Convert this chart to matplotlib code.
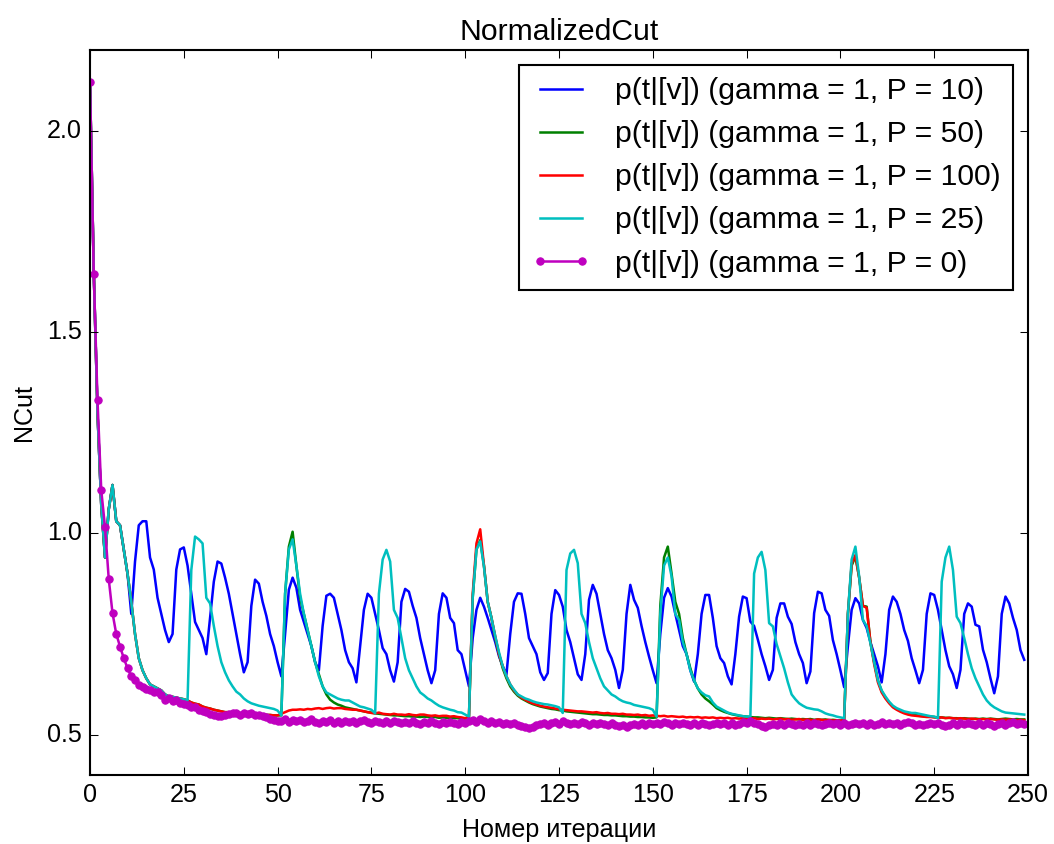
import numpy as np
import matplotlib
matplotlib.use('Agg')
from matplotlib import pyplot as plt

# NCut per iteration (iterations 0..249)
ncut_p10 = [
    2.12, 1.65, 1.30, 1.07, 0.94, 1.06, 1.12, 1.03, 1.02, 0.96,
    0.90, 0.80, 0.93, 1.02, 1.03, 1.03, 0.94, 0.91, 0.84, 0.80,
    0.76, 0.73, 0.75, 0.91, 0.96, 0.965, 0.92, 0.85, 0.78, 0.76,
    0.74, 0.70, 0.79, 0.88, 0.93, 0.925, 0.89, 0.85, 0.80, 0.75,
    0.70, 0.655, 0.68, 0.82, 0.885, 0.875, 0.83, 0.795, 0.75, 0.72,
    0.68, 0.645, 0.75, 0.86, 0.89, 0.865, 0.81, 0.78, 0.75, 0.72,
    0.68, 0.66, 0.77, 0.845, 0.85, 0.84, 0.80, 0.76, 0.71, 0.68,
    0.665, 0.63, 0.72, 0.81, 0.85, 0.84, 0.80, 0.76, 0.715, 0.70,
    0.66, 0.632, 0.68, 0.83, 0.862, 0.855, 0.82, 0.79, 0.74, 0.70,
    0.66, 0.628, 0.66, 0.80, 0.851, 0.84, 0.79, 0.777, 0.71, 0.70,
    0.66, 0.62, 0.74, 0.81, 0.84, 0.818, 0.79, 0.76, 0.73, 0.695,
    0.67, 0.65, 0.75, 0.83, 0.851, 0.85, 0.80, 0.74, 0.72, 0.70,
    0.655, 0.636, 0.653, 0.80, 0.859, 0.847, 0.818, 0.76, 0.73, 0.69,
    0.65, 0.636, 0.70, 0.835, 0.872, 0.85, 0.80, 0.75, 0.71, 0.69,
    0.661, 0.616, 0.661, 0.80, 0.872, 0.835, 0.815, 0.77, 0.73, 0.694,
    0.66, 0.628, 0.75, 0.84, 0.864, 0.843, 0.80, 0.76, 0.72, 0.70,
    0.66, 0.632, 0.70, 0.80, 0.847, 0.847, 0.79, 0.72, 0.69, 0.678,
    0.645, 0.625, 0.70, 0.793, 0.843, 0.839, 0.781, 0.77, 0.736, 0.70,
    0.67, 0.636, 0.661, 0.79, 0.826, 0.826, 0.793, 0.775, 0.73, 0.70,
    0.678, 0.628, 0.657, 0.802, 0.855, 0.851, 0.81, 0.795, 0.735, 0.70,
    0.66, 0.618, 0.72, 0.81, 0.839, 0.826, 0.785, 0.765, 0.73, 0.70,
    0.67, 0.63, 0.70, 0.81, 0.843, 0.83, 0.80, 0.76, 0.733, 0.69,
    0.66, 0.628, 0.661, 0.80, 0.851, 0.847, 0.81, 0.76, 0.71, 0.67,
    0.65, 0.616, 0.661, 0.80, 0.826, 0.818, 0.773, 0.769, 0.711, 0.68,
    0.64, 0.603, 0.645, 0.80, 0.843, 0.826, 0.79, 0.76, 0.71, 0.686,
]

ncut_p50 = [
    2.12, 1.65, 1.30, 1.07, 0.94, 1.06, 1.12, 1.03, 1.02, 0.96,
    0.90, 0.83, 0.75, 0.69, 0.66, 0.64, 0.625, 0.62, 0.615, 0.61,
    0.60, 0.595, 0.594, 0.592, 0.59, 0.588, 0.585, 0.58, 0.577, 0.575,
    0.57, 0.567, 0.565, 0.562, 0.56, 0.558, 0.556, 0.556, 0.554, 0.553,
    0.553, 0.552, 0.552, 0.551, 0.551, 0.55, 0.55, 0.549, 0.549, 0.548,
    0.548, 0.548, 0.85, 0.967, 1.004, 0.92, 0.84, 0.80, 0.76, 0.72,
    0.68, 0.65, 0.62, 0.60, 0.587, 0.58, 0.575, 0.572, 0.568, 0.566,
    0.564, 0.562, 0.56, 0.558, 0.556, 0.555, 0.553, 0.552, 0.551, 0.55,
    0.549, 0.548, 0.548, 0.547, 0.546, 0.546, 0.545, 0.545, 0.544, 0.545,
    0.544, 0.543, 0.544, 0.542, 0.543, 0.542, 0.541, 0.542, 0.541, 0.54,
    0.54, 0.543, 0.84, 0.96, 0.983, 0.92, 0.83, 0.79, 0.74, 0.70,
    0.665, 0.64, 0.62, 0.607, 0.597, 0.59, 0.585, 0.58, 0.576, 0.573,
    0.57, 0.568, 0.566, 0.564, 0.563, 0.561, 0.56, 0.558, 0.557, 0.556,
    0.555, 0.554, 0.553, 0.552, 0.551, 0.551, 0.55, 0.549, 0.549, 0.548,
    0.548, 0.547, 0.546, 0.546, 0.545, 0.545, 0.544, 0.544, 0.543, 0.543,
    0.542, 0.543, 0.82, 0.94, 0.967, 0.90, 0.83, 0.80, 0.74, 0.70,
    0.665, 0.635, 0.615, 0.60, 0.59, 0.583, 0.575, 0.566, 0.561, 0.557,
    0.554, 0.551, 0.549, 0.547, 0.546, 0.545, 0.544, 0.543, 0.543, 0.542,
    0.541, 0.542, 0.541, 0.54, 0.541, 0.54, 0.539, 0.54, 0.539, 0.538,
    0.539, 0.538, 0.539, 0.537, 0.538, 0.537, 0.538, 0.536, 0.537, 0.536,
    0.535, 0.536, 0.80, 0.92, 0.942, 0.89, 0.82, 0.818, 0.73, 0.68,
    0.635, 0.608, 0.592, 0.58, 0.57, 0.564, 0.559, 0.555, 0.552, 0.55,
    0.549, 0.547, 0.546, 0.545, 0.545, 0.544, 0.543, 0.543, 0.542, 0.542,
    0.541, 0.541, 0.54, 0.541, 0.54, 0.539, 0.54, 0.539, 0.54, 0.539,
    0.54, 0.539, 0.538, 0.539, 0.54, 0.539, 0.538, 0.539, 0.538, 0.538,
]

ncut_p100 = [
    2.12, 1.65, 1.30, 1.07, 0.94, 1.06, 1.12, 1.03, 1.02, 0.96,
    0.90, 0.83, 0.75, 0.69, 0.66, 0.64, 0.625, 0.62, 0.615, 0.61,
    0.60, 0.595, 0.594, 0.592, 0.59, 0.588, 0.585, 0.58, 0.577, 0.575,
    0.57, 0.567, 0.565, 0.562, 0.56, 0.558, 0.556, 0.556, 0.554, 0.553,
    0.553, 0.552, 0.552, 0.551, 0.551, 0.55, 0.55, 0.549, 0.549, 0.548,
    0.548, 0.552, 0.556, 0.56, 0.562, 0.562, 0.563, 0.562, 0.564, 0.563,
    0.565, 0.566, 0.564, 0.566, 0.567, 0.565, 0.566, 0.566, 0.564, 0.563,
    0.562, 0.562, 0.56, 0.558, 0.556, 0.554, 0.553, 0.555, 0.552, 0.551,
    0.55, 0.552, 0.55, 0.55, 0.549, 0.551, 0.549, 0.548, 0.55, 0.55,
    0.548, 0.547, 0.548, 0.546, 0.547, 0.547, 0.545, 0.546, 0.544, 0.543,
    0.541, 0.545, 0.85, 0.975, 1.01, 0.92, 0.83, 0.79, 0.745, 0.70,
    0.67, 0.645, 0.625, 0.61, 0.60, 0.592, 0.587, 0.582, 0.578, 0.575,
    0.572, 0.57, 0.568, 0.567, 0.565, 0.563, 0.562, 0.561, 0.56, 0.559,
    0.558, 0.558, 0.557, 0.556, 0.555, 0.556, 0.554, 0.553, 0.554, 0.552,
    0.552, 0.551, 0.552, 0.55, 0.55, 0.549, 0.55, 0.548, 0.549, 0.547,
    0.548, 0.547, 0.546, 0.547, 0.545, 0.546, 0.545, 0.544, 0.545, 0.543,
    0.544, 0.543, 0.544, 0.542, 0.543, 0.542, 0.543, 0.541, 0.542, 0.541,
    0.542, 0.54, 0.541, 0.54, 0.541, 0.539, 0.54, 0.541, 0.539, 0.54,
    0.539, 0.54, 0.538, 0.539, 0.54, 0.538, 0.539, 0.537, 0.538, 0.539,
    0.537, 0.538, 0.537, 0.536, 0.538, 0.537, 0.536, 0.537, 0.535, 0.536,
    0.535, 0.537, 0.80, 0.925, 0.946, 0.89, 0.82, 0.815, 0.73, 0.675,
    0.63, 0.605, 0.59, 0.578, 0.568, 0.562, 0.557, 0.553, 0.55, 0.548,
    0.547, 0.546, 0.545, 0.544, 0.544, 0.543, 0.542, 0.543, 0.541, 0.542,
    0.541, 0.54, 0.541, 0.54, 0.539, 0.54, 0.539, 0.538, 0.539, 0.538,
    0.539, 0.538, 0.537, 0.538, 0.537, 0.538, 0.537, 0.536, 0.537, 0.536,
]

ncut_p25 = [
    2.12, 1.65, 1.30, 1.07, 0.94, 1.06, 1.12, 1.03, 1.02, 0.96,
    0.90, 0.83, 0.75, 0.69, 0.66, 0.64, 0.625, 0.62, 0.615, 0.61,
    0.60, 0.595, 0.594, 0.592, 0.59, 0.588, 0.585, 0.909, 0.992, 0.985,
    0.975, 0.84, 0.826, 0.77, 0.72, 0.68, 0.655, 0.635, 0.62, 0.607,
    0.60, 0.59, 0.583, 0.578, 0.575, 0.572, 0.57, 0.568, 0.566, 0.564,
    0.56, 0.548, 0.85, 0.96, 0.985, 0.92, 0.85, 0.80, 0.76, 0.72,
    0.68, 0.645, 0.62, 0.605, 0.60, 0.595, 0.59, 0.587, 0.585, 0.585,
    0.58, 0.575, 0.57, 0.568, 0.565, 0.562, 0.553, 0.85, 0.935, 0.959,
    0.93, 0.81, 0.79, 0.74, 0.69, 0.66, 0.64, 0.62, 0.605, 0.598,
    0.59, 0.585, 0.578, 0.572, 0.568, 0.565, 0.562, 0.56, 0.556, 0.555,
    0.55, 0.545, 0.84, 0.96, 0.98, 0.917, 0.83, 0.79, 0.745, 0.705,
    0.67, 0.645, 0.625, 0.612, 0.60, 0.595, 0.59, 0.587, 0.583, 0.58,
    0.578, 0.576, 0.575, 0.573, 0.571, 0.568, 0.554, 0.909, 0.95, 0.959,
    0.926, 0.80, 0.777, 0.73, 0.69, 0.665, 0.64, 0.62, 0.61, 0.60,
    0.595, 0.588, 0.583, 0.58, 0.578, 0.574, 0.572, 0.57, 0.568, 0.566,
    0.562, 0.545, 0.80, 0.92, 0.94, 0.893, 0.80, 0.785, 0.73, 0.70,
    0.66, 0.635, 0.615, 0.605, 0.598, 0.595, 0.58, 0.57, 0.565, 0.56,
    0.555, 0.552, 0.55, 0.548, 0.546, 0.545, 0.545, 0.90, 0.94, 0.954,
    0.909, 0.777, 0.769, 0.725, 0.695, 0.665, 0.63, 0.60, 0.588, 0.578,
    0.572, 0.567, 0.565, 0.563, 0.562, 0.558, 0.553, 0.55, 0.548, 0.545,
    0.543, 0.541, 0.80, 0.935, 0.967, 0.893, 0.785, 0.77, 0.727, 0.68,
    0.635, 0.61, 0.595, 0.582, 0.572, 0.566, 0.562, 0.558, 0.556, 0.554,
    0.554, 0.552, 0.55, 0.548, 0.546, 0.545, 0.541, 0.88, 0.94, 0.967,
    0.909, 0.793, 0.777, 0.74, 0.70, 0.665, 0.64, 0.62, 0.60, 0.585,
    0.575, 0.568, 0.563, 0.558, 0.555, 0.554, 0.553, 0.552, 0.551, 0.55,
]

ncut_p0 = [
    2.12, 1.645, 1.33, 1.107, 1.016, 0.886, 0.802, 0.75, 0.719, 0.69,
    0.665, 0.645, 0.635, 0.624, 0.618, 0.614, 0.61, 0.605, 0.607, 0.598,
    0.585, 0.59, 0.583, 0.585, 0.58, 0.576, 0.574, 0.57, 0.568, 0.562,
    0.56, 0.556, 0.552, 0.55, 0.547, 0.547, 0.55, 0.552, 0.553, 0.554,
    0.55, 0.553, 0.551, 0.554, 0.55, 0.548, 0.546, 0.544, 0.54, 0.537,
    0.535, 0.534, 0.538, 0.532, 0.536, 0.533, 0.537, 0.531, 0.535, 0.538,
    0.532, 0.529, 0.534, 0.531, 0.536, 0.530, 0.533, 0.528, 0.535, 0.531,
    0.534, 0.530, 0.533, 0.536, 0.531, 0.528, 0.534, 0.531, 0.529, 0.533,
    0.530, 0.535, 0.531, 0.528, 0.532, 0.529, 0.534, 0.530, 0.527, 0.532,
    0.529, 0.533, 0.530, 0.526, 0.531, 0.528, 0.532, 0.529, 0.526, 0.531,
    0.528, 0.533, 0.536, 0.531, 0.538, 0.534, 0.530, 0.533, 0.528, 0.531,
    0.527, 0.530, 0.526, 0.529, 0.524, 0.522, 0.518, 0.516, 0.520, 0.523,
    0.526, 0.529, 0.525, 0.528, 0.531, 0.527, 0.533, 0.529, 0.526, 0.530,
    0.527, 0.531, 0.528, 0.525, 0.529, 0.526, 0.530, 0.527, 0.524, 0.528,
    0.525, 0.521, 0.524, 0.520, 0.523, 0.527, 0.524, 0.528, 0.525, 0.529,
    0.526, 0.530, 0.527, 0.531, 0.528, 0.525, 0.529, 0.526, 0.530, 0.527,
    0.524, 0.528, 0.525, 0.529, 0.526, 0.523, 0.527, 0.530, 0.526, 0.529,
    0.525, 0.528, 0.524, 0.527, 0.531, 0.528, 0.534, 0.530, 0.526, 0.522,
    0.519, 0.523, 0.527, 0.524, 0.528, 0.525, 0.529, 0.526, 0.523, 0.527,
    0.524, 0.528, 0.525, 0.529, 0.526, 0.523, 0.527, 0.530, 0.526, 0.529,
    0.525, 0.528, 0.524, 0.527, 0.530, 0.526, 0.529, 0.525, 0.528, 0.524,
    0.527, 0.531, 0.527, 0.530, 0.526, 0.529, 0.525, 0.528, 0.532, 0.528,
    0.524, 0.527, 0.523, 0.526, 0.530, 0.526, 0.529, 0.525, 0.521, 0.524,
    0.528, 0.525, 0.529, 0.526, 0.530, 0.527, 0.524, 0.528, 0.525, 0.529,
    0.526, 0.522, 0.526, 0.529, 0.525, 0.528, 0.531, 0.527, 0.530, 0.527,
]

labels = [
    'p(t|[v]) (gamma = 1, P = 10)',
    'p(t|[v]) (gamma = 1, P = 50)',
    'p(t|[v]) (gamma = 1, P = 100)',
    'p(t|[v]) (gamma = 1, P = 25)',
    'p(t|[v]) (gamma = 1, P = 0)',
]

DPI = 151


def main():
    plt.style.use('classic')
    plt.rcParams['font.family'] = ['Liberation Sans', 'DejaVu Sans']

    fig = plt.figure(figsize=(1054 / DPI, 844 / DPI), dpi=DPI, facecolor='white')
    ax = fig.add_axes([90 / 1054, 69 / 844, 938 / 1054, 725 / 844])

    iters = np.arange(len(ncut_p0))
    lw = 1.2
    ax.plot(iters, ncut_p10, 'b-', lw=lw, label=labels[0])
    ax.plot(iters, ncut_p50, 'g-', lw=lw, label=labels[1])
    ax.plot(iters, ncut_p100, 'r-', lw=lw, label=labels[2])
    ax.plot(iters, ncut_p25, 'c-', lw=lw, label=labels[3])
    ax.plot(iters, ncut_p0, 'm.-', lw=lw, markersize=7, label=labels[4])

    ax.set_xlim(0, 250)
    ax.set_ylim(0.4, 2.2)
    ax.set_xticks(np.arange(0, 251, 25))
    ax.set_yticks([0.5, 1.0, 1.5, 2.0])

    ax.set_title('NormalizedCut')
    ax.set_xlabel('Номер итерации')
    ax.set_ylabel('NCut')
    ax.legend(loc='upper right')

    fig.savefig('out.png', dpi=DPI, facecolor='white')


if __name__ == "__main__":
    main()
